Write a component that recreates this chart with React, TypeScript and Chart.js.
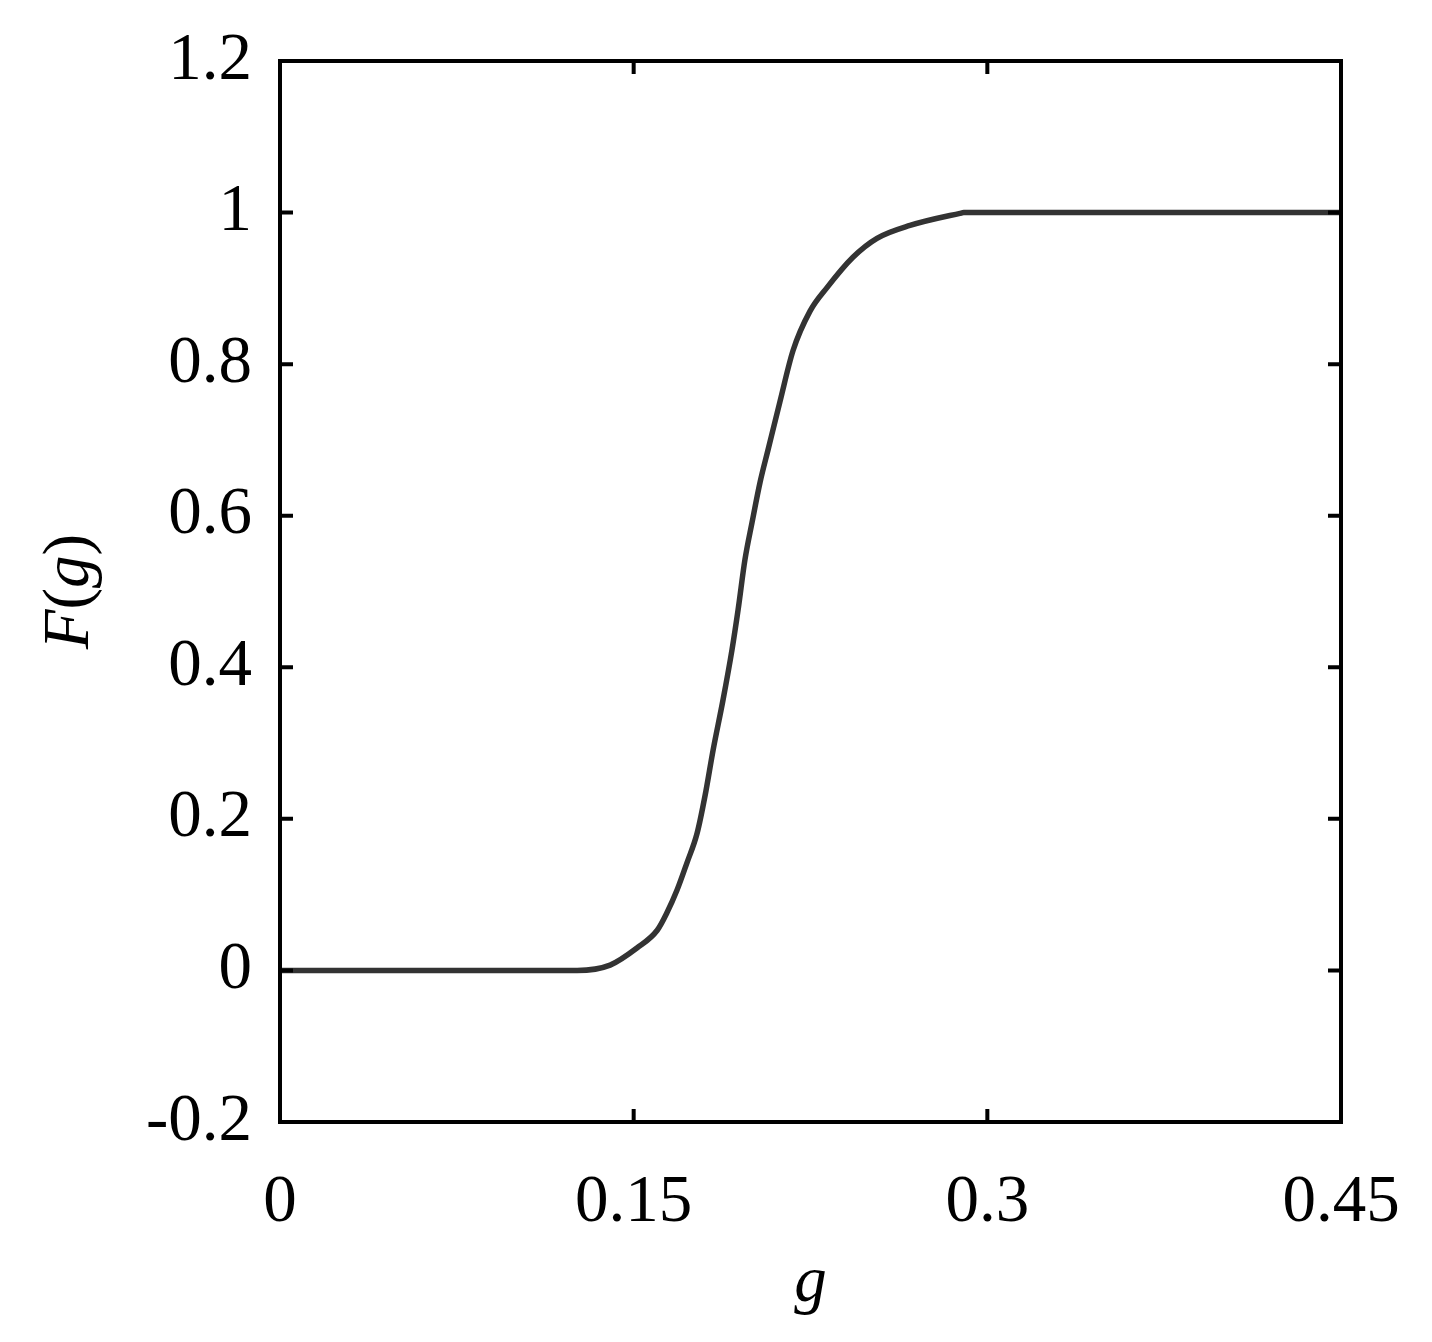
import React, { useEffect, useRef } from "react";
import { Chart, registerables } from "chart.js";

Chart.register(...registerables);

const gValues = [0, 0.126, 0.14, 0.1514, 0.16, 0.1641, 0.1684, 0.1726, 0.1769, 0.1803, 0.1837, 0.1879, 0.1917, 0.1943, 0.1972, 0.2002, 0.2036, 0.207, 0.212, 0.2176, 0.2248, 0.232, 0.243, 0.2532, 0.2672, 0.2884, 0.29, 0.45];
const fValues = [0, 0, 0.007, 0.0296, 0.053, 0.076, 0.106, 0.142, 0.181, 0.231, 0.291, 0.357, 0.423, 0.476, 0.542, 0.591, 0.644, 0.687, 0.75, 0.818, 0.87, 0.901, 0.941, 0.966, 0.983, 0.999, 1, 1];

const xTickValues = [0, 0.15, 0.3, 0.45];
const xTickLabels = ["0", "0.15", "0.3", "0.45"];
const yTickValues = [-0.2, 0, 0.2, 0.4, 0.6, 0.8, 1, 1.2];
const yTickLabels = ["-0.2", "0", "0.2", "0.4", "0.6", "0.8", "1", "1.2"];

const xTitle = "g";
const yTitleParts: [string, boolean][] = [["F", true], ["(", false], ["g", true], [")", false]];

const FONT_FAMILY = "'Liberation Serif', 'Times New Roman', serif";
const FONT_SIZE = 67;
const TITLE_SIZE = 65;
const INK = "#000000";
const LINE_COLOR = "#333333";

const boxPlugin = {
  id: "boxPlugin",
  afterDraw(chart: any) {
    const { ctx, chartArea } = chart;
    const { left, right, top, bottom } = chartArea;
    const xs = chart.scales.x;
    const ys = chart.scales.y;
    const tickLen = 13;
    ctx.save();
    ctx.strokeStyle = INK;
    ctx.lineWidth = 4;
    ctx.lineCap = "butt";
    ctx.beginPath();
    ctx.rect(left, top, right - left, bottom - top);
    ctx.stroke();
    ctx.beginPath();
    xTickValues.forEach((v) => {
      const px = xs.getPixelForValue(v);
      ctx.moveTo(px, bottom);
      ctx.lineTo(px, bottom - tickLen);
      ctx.moveTo(px, top);
      ctx.lineTo(px, top + tickLen);
    });
    yTickValues.forEach((v) => {
      const py = ys.getPixelForValue(v);
      ctx.moveTo(left, py);
      ctx.lineTo(left + tickLen, py);
      ctx.moveTo(right, py);
      ctx.lineTo(right - tickLen, py);
    });
    ctx.stroke();

    // x title
    ctx.fillStyle = INK;
    ctx.textBaseline = "alphabetic";
    ctx.textAlign = "center";
    ctx.font = `italic ${TITLE_SIZE}px ${FONT_FAMILY}`;
    ctx.fillText(xTitle, (left + right) / 2, bottom + 179);

    // y title (rotated, mixed italic / upright)
    ctx.translate(left - 192, (top + bottom) / 2);
    ctx.rotate(-Math.PI / 2);
    const widths = yTitleParts.map(([t, it]) => {
      ctx.font = `${it ? "italic " : ""}${TITLE_SIZE}px ${FONT_FAMILY}`;
      return ctx.measureText(t).width;
    });
    const total = widths.reduce((a, b) => a + b, 0);
    let cx = -total / 2;
    ctx.textAlign = "left";
    yTitleParts.forEach(([t, it], i) => {
      ctx.font = `${it ? "italic " : ""}${TITLE_SIZE}px ${FONT_FAMILY}`;
      ctx.fillText(t, cx, 0);
      cx += widths[i];
    });
    ctx.restore();
  },
};

export default function App() {
  const canvasRef = useRef<HTMLCanvasElement | null>(null);

  useEffect(() => {
    if (!canvasRef.current) return;
    const chart = new Chart(canvasRef.current, {
      type: "line",
      data: {
        datasets: [
          {
            data: gValues.map((g, i) => ({ x: g, y: fValues[i] })),
            borderColor: LINE_COLOR,
            borderWidth: 5.5,
            pointRadius: 0,
            cubicInterpolationMode: "monotone",
            fill: false,
          },
        ],
      },
      options: {
        responsive: false,
        animation: false,
        devicePixelRatio: 1,
        layout: { padding: { top: 53, right: 83, left: 0, bottom: 0 } },
        plugins: { legend: { display: false }, tooltip: { enabled: false } },
        scales: {
          x: {
            type: "linear",
            min: 0,
            max: 0.45,
            grid: { display: false },
            border: { display: false },
            afterBuildTicks: (scale: any) => {
              scale.ticks = xTickValues.map((v) => ({ value: v }));
            },
            afterFit: (scale: any) => {
              scale.height = 212;
              scale.paddingLeft = 0;
              scale.paddingRight = 0;
              scale.paddingTop = 0;
              scale.paddingBottom = 0;
            },
            ticks: {
              autoSkip: false,
              maxRotation: 0,
              padding: 40,
              color: INK,
              font: { family: FONT_FAMILY, size: FONT_SIZE, lineHeight: 1 },
              callback: (_v: any, i: number) => xTickLabels[i],
            },
          },
          y: {
            type: "linear",
            min: -0.2,
            max: 1.2,
            grid: { display: false },
            border: { display: false },
            afterBuildTicks: (scale: any) => {
              scale.ticks = yTickValues.map((v) => ({ value: v }));
            },
            afterFit: (scale: any) => {
              scale.width = 272;
              scale.paddingLeft = 0;
              scale.paddingRight = 0;
              scale.paddingTop = 0;
              scale.paddingBottom = 0;
            },
            ticks: {
              autoSkip: false,
              padding: 20,
              color: INK,
              font: { family: FONT_FAMILY, size: FONT_SIZE, lineHeight: 1 },
              callback: (_v: any, i: number) => yTickLabels[i],
            },
          },
        },
      },
      plugins: [boxPlugin],
    });
    return () => chart.destroy();
  }, []);

  return (
    <div style={{ width: 1416, height: 1326 }}>
      <canvas ref={canvasRef} width={1416} height={1326} style={{ display: "block", width: 1416, height: 1326 }} />
    </div>
  );
}
